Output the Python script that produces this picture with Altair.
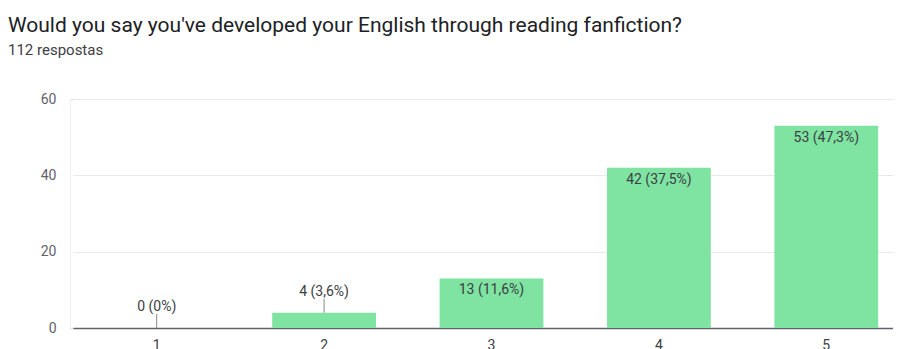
import altair as alt
import pandas as pd

categories = ["1", "2", "3", "4", "5"]
counts = [0, 4, 13, 42, 53]
percents = ["0%", "3,6%", "11,6%", "37,5%", "47,3%"]

df = pd.DataFrame({"cat": categories, "count": counts, "pct": percents})
df["label"] = df["count"].astype(str) + " (" + df["pct"] + ")"
df["inside"] = df["count"] >= 10

GREEN = "#7fe3a2"
TXT = "#3c4043"

x = alt.X("cat:N", title=None, sort=categories,
          scale=alt.Scale(paddingInner=0.38, paddingOuter=0.19, range=[3, 840]),
          axis=alt.Axis(labelAngle=0, labelFontSize=14, labelColor=TXT, labelFont="Roboto",
                        ticks=False, domainColor="#5f6368", domainWidth=1.5, labelPadding=10))
y = alt.Y("count:Q", title=None,
          scale=alt.Scale(domain=[0, 60], nice=False),
          axis=alt.Axis(values=[0, 10, 20, 30, 40, 50, 60],
                        labelExpr="datum.value % 20 == 0 ? datum.label : ''",
                        gridColor={"condition": {"test": "datum.value % 20 == 0", "value": "#e9e9e9"}, "value": "#f4f4f4"},
                        ticks=False, domain=True, domainColor="#f0f0f0", labelFontSize=14, labelColor="#5f6368",
                        labelFont="Roboto", labelPadding=14))

base = alt.Chart(df)
bars = base.mark_bar(color=GREEN).encode(x=x, y=y)

inside_txt = base.transform_filter("datum.inside").mark_text(
    baseline="middle", dy=12, fontSize=14, color=TXT, font="Roboto"
).encode(x=x, y="count:Q", text="label:N")

outside_txt = base.transform_filter("!datum.inside").mark_text(
    baseline="middle", dy=-21, fontSize=14, color=TXT, font="Roboto"
).encode(x=x, y="count:Q", text="label:N")

leader = base.transform_filter("!datum.inside").mark_rule(
    color="#888888", strokeWidth=1, y2Offset=-14
).encode(x=x, y="count:Q", y2="count:Q")

chart = alt.layer(bars, leader, inside_txt, outside_txt).properties(
    width=823, height=229,
    autosize=alt.AutoSizeParams(type="none"),
    padding={"left": 62, "top": 91, "right": 0, "bottom": 30},
    title=alt.TitleParams(
        "Would you say you've developed your English through reading fanfiction?",
        subtitle="112 respostas",
        anchor="start", frame="group", dx=-62,
        font="Roboto", fontSize=21, fontWeight="normal", color="#202124",
        subtitleFont="Roboto", subtitleFontSize=15, subtitleColor="#3c4043",
        subtitlePadding=7, offset=34,
    ),
).configure_view(stroke=None).configure(background="white")

chart.save("out.html", embed_options={"renderer": "svg", "actions": False})
